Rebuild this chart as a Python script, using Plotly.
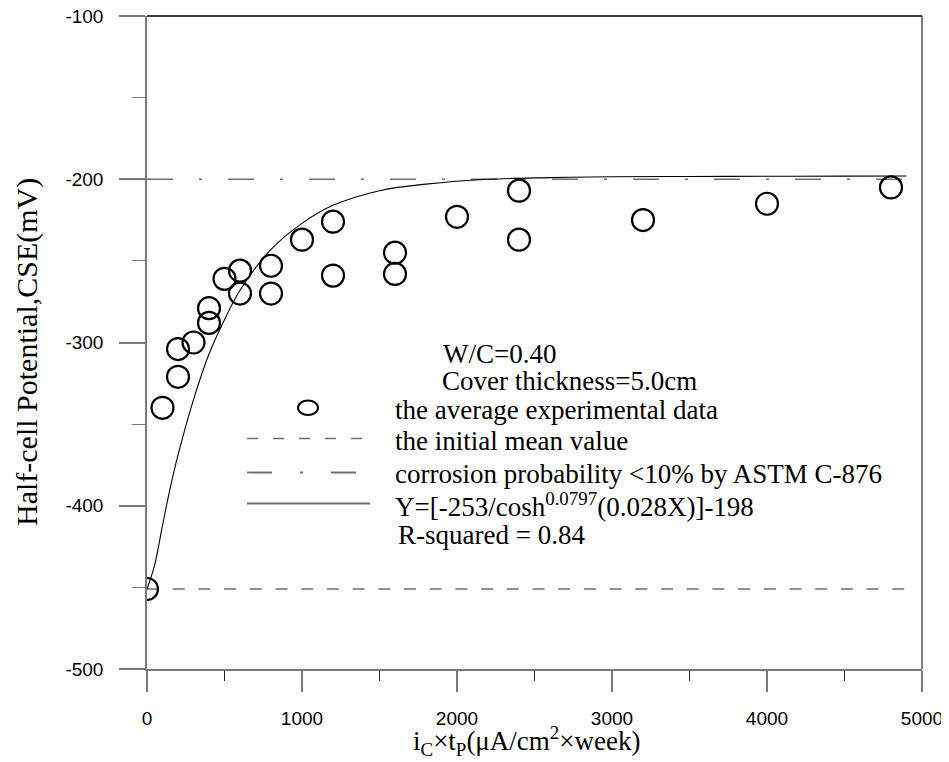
import plotly.graph_objects as go

# ---- data ----
exp_x = [0, 100, 200, 200, 300, 400, 400, 500, 600, 600, 800, 800, 1000, 1200, 1200,
         1600, 1600, 2000, 2400, 2400, 3200, 4000, 4800]
exp_y = [-451, -340, -321, -304, -300, -288, -279, -261, -256, -270, -253, -270, -237, -226, -259,
         -245, -258, -223, -207, -237, -225, -215, -205]

fit_x = [0, 50, 100, 150, 200, 300, 400, 500, 600, 800, 1000, 1200, 1500, 1800, 2200,
         2600, 3000, 3500, 4000, 4500, 4900]
fit_y = [-451, -436, -412, -389, -369, -335, -307, -286, -268, -243, -227, -216, -207, -203, -200,
         -199, -198.5, -198.3, -198.2, -198.1, -198]

initial_mean = -451
astm_limit = -200
line_x = [0, 4900]

x_tickvals = [0, 1000, 2000, 3000, 4000, 5000]
x_ticktext = ["0", "1000", "2000", "3000", "4000", "5000"]
y_tickvals = [-500, -400, -300, -200, -100]
y_ticktext = ["-500", "-400", "-300", "-200", "-100"]

x_title = "i<sub>C</sub>×t<sub>P</sub>(μA/cm<sup>2</sup>×week)"
y_title = "Half-cell Potential,CSE(mV)"

legend_lines = [
    "W/C=0.40",
    "Cover thickness=5.0cm",
    "the average experimental data",
    "the initial mean value",
    "corrosion probability <10% by ASTM C-876",
    "Y=[-253/cosh<sup>0.0797</sup>(0.028X)]-198",
    "R-squared = 0.84",
]

# ---- layout geometry ----
# the page body adds an 8px margin, so the figure is 8px smaller than the window
OFF = 8
W, H = 949 - OFF, 762 - OFF
PLOT_L, PLOT_T, PLOT_R, PLOT_B = 147, 16, 922, 669   # plot box in screen pixels
L = PLOT_L - OFF
T = PLOT_T - OFF
R = W - (PLOT_R - OFF)
B = H - (PLOT_B - OFF)
PW, PH = PLOT_R - PLOT_L, PLOT_B - PLOT_T


def px(x):
    return (x - PLOT_L) / PW


def py(y):
    return (PLOT_B - y) / PH


SERIF = "Liberation Serif, Times New Roman, serif"
SANS = "Liberation Sans, Arial, sans-serif"

fig = go.Figure()

fig.add_trace(go.Scatter(
    x=line_x, y=[initial_mean] * len(line_x), mode="lines",
    line=dict(color="#6e6e6e", width=1.5, dash="12px,13.7px"),
    showlegend=False, hoverinfo="skip"))
fig.add_trace(go.Scatter(
    x=line_x, y=[astm_limit] * len(line_x), mode="lines",
    line=dict(color="#6e6e6e", width=1.5, dash="26px,26px,3px,26px"),
    showlegend=False, hoverinfo="skip"))
fig.add_trace(go.Scatter(
    x=fit_x, y=fit_y, mode="lines", line=dict(color="black", width=1.1, shape="spline"),
    showlegend=False, hoverinfo="skip"))
fig.add_trace(go.Scatter(
    x=exp_x, y=exp_y, mode="markers",
    marker=dict(symbol="circle-open", size=22, color="black", line=dict(width=2.2, color="black")),
    showlegend=False))

# ---- in-plot legend (drawn) ----
shapes = []
shapes.append(dict(type="line", xref="paper", yref="paper", x0=0, x1=1, y0=1, y1=1,
                   line=dict(color="black", width=1.5)))
shapes.append(dict(type="line", xref="paper", yref="paper", x0=1, x1=1, y0=0, y1=1,
                   line=dict(color="#555555", width=1.5)))
shapes.append(dict(type="circle", xref="paper", yref="paper",
                   x0=px(298), x1=px(318), y0=py(400.5), y1=py(415),
                   line=dict(color="black", width=2)))
shapes.append(dict(type="line", xref="paper", yref="paper", x0=px(247), x1=px(363),
                   y0=py(438.5), y1=py(438.5),
                   line=dict(color="#6e6e6e", width=1.5, dash="11px,15px")))
shapes.append(dict(type="line", xref="paper", yref="paper", x0=px(247), x1=px(356),
                   y0=py(472.5), y1=py(472.5),
                   line=dict(color="#6e6e6e", width=1.8, dash="25px,28px,3px,28px")))
shapes.append(dict(type="line", xref="paper", yref="paper", x0=px(247), x1=px(370),
                   y0=py(503.5), y1=py(503.5),
                   line=dict(color="#6e6e6e", width=1.8)))

text_pos = [(441, 352), (440, 379), (393, 408), (393, 439), (393, 472), (393, 503), (396, 533)]
annotations = []
for (tx, ty), txt in zip(text_pos, legend_lines):
    annotations.append(dict(text=txt, xref="paper", yref="paper", x=px(tx), y=py(ty + 2),
                            xanchor="left", yanchor="middle", showarrow=False,
                            font=dict(family=SERIF, size=27, color="black")))
# axis titles
annotations.append(dict(text=x_title, xref="paper", yref="paper", x=px(526), y=py(741),
                        xanchor="center", yanchor="middle", showarrow=False,
                        font=dict(family=SERIF, size=27, color="black")))
annotations.append(dict(text=y_title, xref="paper", yref="paper", x=px(27), y=py(352),
                        xanchor="center", yanchor="middle", showarrow=False, textangle=-90,
                        font=dict(family=SERIF, size=30, color="black")))

fig.update_layout(
    width=W, height=H,
    margin=dict(l=L, r=R, t=T, b=B, pad=0, autoexpand=False),
    paper_bgcolor="white", plot_bgcolor="white",
    showlegend=False,
    shapes=shapes, annotations=annotations,
    xaxis=dict(
        range=[0, 5000], tickvals=x_tickvals, ticktext=x_ticktext, automargin=False,
        showgrid=False, zeroline=False, showline=True, linecolor="#7a7a7a", linewidth=1.5,
        ticks="outside", ticklen=21, tickwidth=1.5, tickcolor="#7a7a7a",
        ticklabelstandoff=10, ticklabeloverflow="allow",
        minor=dict(dtick=500, ticks="outside", ticklen=10, tickwidth=1.2, tickcolor="#222222"),
        tickfont=dict(family=SANS, size=19, color="black"),
    ),
    yaxis=dict(
        range=[-500, -100], tickvals=y_tickvals, ticktext=y_ticktext, automargin=False,
        showgrid=False, zeroline=False, showline=True, linecolor="#7a7a7a", linewidth=1.5,
        ticks="outside", ticklen=26, tickwidth=1.5, tickcolor="#7a7a7a",
        ticklabelstandoff=12, ticklabeloverflow="allow",
        minor=dict(dtick=50, ticks="outside", ticklen=13, tickwidth=1.2, tickcolor="#7a7a7a"),
        tickfont=dict(family=SANS, size=19, color="black"),
    ),
)

fig.write_html("out.html")
